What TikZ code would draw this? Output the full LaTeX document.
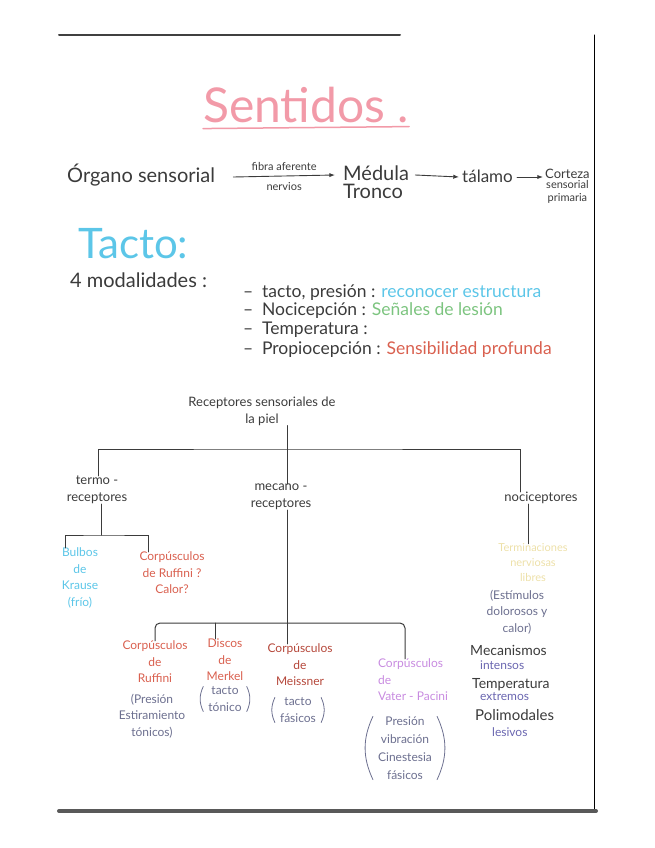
\documentclass[tikz,border=0pt]{standalone}
\usepackage{fontspec}
\setmainfont{Lato}
\usetikzlibrary{arrows.meta,positioning}
\definecolor{ink}{HTML}{3B3B3B}
\definecolor{rosa}{HTML}{F29AA8}
\definecolor{celeste}{HTML}{5CC6E8}
\definecolor{verde}{HTML}{7CC47F}
\definecolor{rojo}{HTML}{D9604F}
\definecolor{granate}{HTML}{B5473A}
\definecolor{lila}{HTML}{C88BE0}
\definecolor{amarillo}{HTML}{EDE0A8}
\definecolor{gris}{HTML}{6C6F8F}
\definecolor{azul}{HTML}{6A66B0}
\tikzset{nota/.style={inner sep=0pt,text=ink,font=\fontsize{17.5}{20}\selectfont},flecha/.style={-{Latex[length=2mm]},line width=.9pt,draw=ink},rama/.style={draw=ink,line width=1pt},paren/.style={draw=gris,line width=.8pt},every picture/.style={line cap=round}}

\begin{document}
\begin{tikzpicture}[x=1pt,y=-1pt,
  fila/.style={nota,font=\fontsize{20}{22}\selectfont,text height=14pt,text depth=4pt},
  chico/.style={nota,font=\fontsize{11}{13}\selectfont},
  rama2/.style={nota,font=\fontsize{13}{17}\selectfont,align=center},
  hoja/.style={nota,font=\fontsize{12}{16.5}\selectfont,align=center}]
\useasboundingbox (0,0) rectangle (655,848);
% borde de la hoja
\draw[line width=2pt,draw=black!75] (59,35) -- (400,35);
\draw[line width=1pt] (594,35) -- (594,812);
\draw[line width=4pt,draw=black!65] (59,811) -- (596,811);

\node[nota,font=\fontsize{48}{52}\selectfont,text=rosa,anchor=base west] (sent) at (203,123) {Sentidos .};
\draw[draw=rosa,line width=1.5pt] ([yshift=-5pt]sent.south west) -- ([yshift=-3pt]sent.south east);

% via sensorial
\node[fila,anchor=base west] (organo) at (67,182) {Órgano sensorial};
\node[fila,anchor=base west] (medula) at (343,180) {Médula};
\node[fila,anchor=north west] (tronco) at (medula.south west) {Tronco};
\node[fila,font=\fontsize{17}{20}\selectfont,anchor=base west] (talamo) at (462,182) {tálamo};
\node[nota,font=\fontsize{13}{15}\selectfont,anchor=base west] (corteza) at (545,178) {Corteza};
\node[chico,align=center,below=2pt of corteza] (primaria) {sensorial\\primaria};
\draw[flecha] ([xshift=18pt]organo.east) -- node[chico,above=5pt] {fibra aferente} node[chico,below=6pt] {nervios} ([xshift=-8pt]medula.west);
\draw[flecha] ([xshift=6pt]medula.east) -- ([xshift=-3pt]talamo.west);
\draw[flecha] ([xshift=4pt]talamo.east) -- ([xshift=-2pt]corteza.west |- talamo.west);

% tacto
\node[nota,font=\fontsize{42}{46}\selectfont,text=celeste,anchor=base west] (tacto) at (78,258) {Tacto:};
\node[nota,font=\fontsize{20}{22}\selectfont,anchor=base west] (modal) at (70,287) {4 modalidades :};
\node[nota,anchor=base west] (m1) at (243,297) {--\enspace tacto, presión : \textcolor{celeste}{reconocer estructura}};
\node[nota,anchor=base west] (m2) at (243,315) {--\enspace Nocicepción : \textcolor{verde}{Señales de lesión}};
\node[nota,anchor=base west] (m3) at (243,334) {--\enspace Temperatura :};
\node[nota,anchor=base west] (m4) at (243,354) {--\enspace Propiocepción : \textcolor{rojo}{Sensibilidad profunda}};

% receptores
\node[rama2] (rec) at (262,411) {Receptores sensoriales de\\la piel};
\node[rama2] (termo) at (97,490) {termo -\\receptores};
\node[rama2] (mecano) at (281,497) {mecano -\\receptores};
\node[rama2] (noci) at (541,498) {nociceptores};
\coordinate (piel) at (287,449);
\draw[rama] (rec.south -| piel) -- (piel);
\draw[rama] ([xshift=1pt]termo.north) |- (piel) -| ([xshift=-21pt]noci.north);
\draw[rama] (piel) -- (mecano.north -| piel);

% termorreceptores
\node[hoja,text=celeste] (krause) at (80,578) {Bulbos\\de\\Krause\\(frío)};
\node[hoja,text=rojo] (ruffC) at (172,573) {Corpúsculos\\de Ruffini ?\\Calor?};
\coordinate (frio) at (101,535);
\draw[rama] (termo.south -| frio) -- (frio);
\draw[rama] ([xshift=-15pt]krause.north) |- (frio) -| ([xshift=-24pt]ruffC.north);

% mecanorreceptores
\node[hoja,text=rojo] (ruffini) at (155,662) {Corpúsculos\\de\\Ruffini};
\node[hoja,text=gris] (ruffD) at (152,716) {(Presión\\Estiramiento\\tónicos)};
\node[hoja,text=rojo] (merkel) at (225,660) {Discos\\de\\Merkel};
\node[hoja,text=gris] (merkD) at (225,699) {tacto\\tónico};
\node[hoja,text=granate] (meissner) at (300,665) {Corpúsculos\\de\\Meissner};
\node[hoja,text=gris] (meissD) at (298,710) {tacto\\fásicos};
\node[hoja,text=lila,align=left] (pacini) at (413,680) {Corpúsculos\\de\\Vater - Pacini};
\node[hoja,text=gris,font=\fontsize{12}{18}\selectfont] (paciniD) at (405,748) {Presión\\vibración\\Cinestesia\\fásicos};
\coordinate (mbar) at (287,623);
\draw[rama] (mecano.south -| mbar) -- (mbar);
\draw[rama,rounded corners=5pt] (ruffini.north) |- (mbar) -| ([xshift=-8pt]pacini.north);
\draw[rama] ([xshift=-10pt]merkel.north) -- ([xshift=-10pt]merkel.north |- mbar);
\draw[rama] (mbar) -- (meissner.north -| mbar);
\foreach \d in {merkD,meissD,paciniD}{
  \draw[paren] ([xshift=-5pt]\d.north west) to[bend right=25] ([xshift=-5pt]\d.south west);
  \draw[paren] ([xshift=5pt]\d.north east) to[bend left=25] ([xshift=5pt]\d.south east);
}

% nociceptores
\node[hoja,text=amarillo,font=\fontsize{11}{15}\selectfont] (libres) at (533,563) {Terminaciones\\nerviosas\\libres};
\node[hoja,text=gris] (nociD) at (517,612) {(Estímulos\\dolorosos y\\calor)};
\draw[rama] ([xshift=-13pt]noci.south) -- ([xshift=-5pt]libres.north);
\node[nota,font=\fontsize{14}{16}\selectfont,anchor=base west] (mec) at (470,655) {Mecanismos};
\node[nota,font=\fontsize{12}{14}\selectfont,text=azul,anchor=base west] (intensos) at (480,669) {intensos};
\node[nota,font=\fontsize{14}{16}\selectfont,anchor=base west] (temp) at (472,688) {Temperatura};
\node[nota,font=\fontsize{12}{14}\selectfont,text=azul,anchor=base west] (extremos) at (480,700) {extremos};
\node[nota,font=\fontsize{15}{17}\selectfont,anchor=base west] (poli) at (475,720) {Polimodales};
\node[nota,font=\fontsize{12}{14}\selectfont,text=azul,anchor=base west] (lesivos) at (492,736) {lesivos};
\end{tikzpicture}
\end{document}
